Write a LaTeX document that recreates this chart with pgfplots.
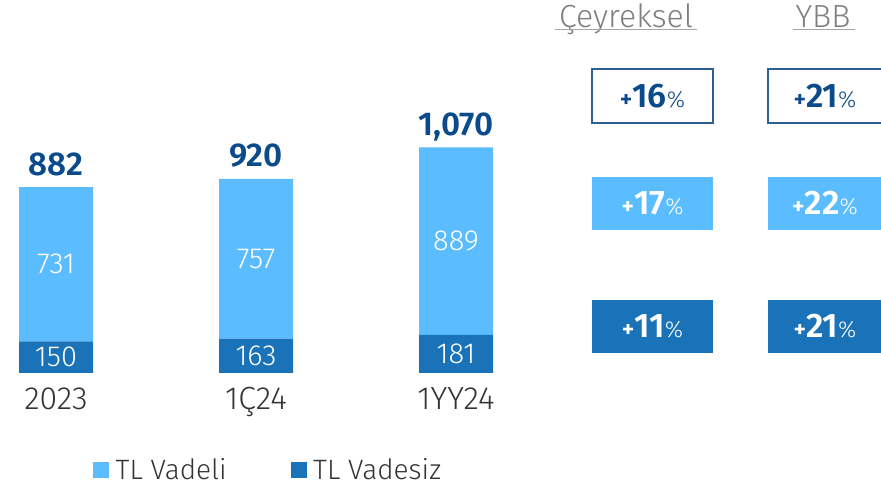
\documentclass[border=0pt]{standalone}
\usepackage{pgfplots}
\pgfplotsset{compat=1.18}
\usepackage{fontspec}
\setmainfont{Fira Sans Light}[BoldFont={Fira Sans SemiBold}]
\definecolor{lb}{HTML}{5BBCFF}
\definecolor{db}{HTML}{1A72B9}
\definecolor{nv}{HTML}{0B4A8B}
\definecolor{ol}{HTML}{2E5E94}
\definecolor{gr}{HTML}{7F7F7F}
\definecolor{tx}{HTML}{333333}
\newcommand\pct[1]{{\fontsize{24}{24}\selectfont\bfseries +}{\fontsize{34}{34}\selectfont\bfseries #1}{\fontsize{23}{23}\selectfont\%}}
\pgfplotsset{base/.style={scale only axis, width=881pt, height=373pt,
  xmin=-0.28, xmax=4.125, ymin=0, ymax=1768,
  axis line style={draw=none}, tick style={draw=none}, ytick=\empty, clip=false}}
\begin{document}
\begin{tikzpicture}
\useasboundingbox (0pt,-113pt) rectangle (881pt,373pt);
\begin{axis}[base, ybar stacked, bar width=74pt,
  xtick={0,1,2}, xticklabels={2023,1Ç24,1YY24},
  xticklabel style={font=\fontsize{32}{32}\selectfont, text=tx, yshift=-11pt},
  legend style={at={(axis description cs:0.1056,-0.2587)}, anchor=west, draw=none, fill=none,
    inner sep=0pt, legend columns=2, font=\fontsize{28}{28}\selectfont, text=tx,
    /tikz/every even column/.append style={column sep=62pt}},
  legend cell align=left]
\addplot[fill=db, draw=none, forget plot] coordinates {(0,150) (1,163) (2,181)};
\addplot[fill=lb, draw=none, forget plot] coordinates {(0,731) (1,757) (2,889)};
\addlegendimage{legend image code/.code={\fill[lb] (0pt,-7.5pt) rectangle (15pt,7.5pt);}}
\addlegendentry{\hspace{5pt}TL Vadeli}
\addlegendimage{legend image code/.code={\fill[db] (0pt,-7.5pt) rectangle (15pt,7.5pt);}}
\addlegendentry{\hspace{5pt}TL Vadesiz}
\end{axis}
\begin{axis}[base, xtick=\empty]
\addplot[draw=none, mark=none, nodes near coords, point meta=explicit symbolic,
  every node near coord/.style={anchor=center, text=white, font=\fontsize{29}{29}\selectfont}]
  coordinates {(0,75)[150] (1,81.5)[163] (2,90.5)[181] (0,515.5)[731] (1,541.5)[757] (2,625.5)[889]};
\addplot[draw=none, mark=none, nodes near coords, point meta=explicit symbolic,
  every node near coord/.style={anchor=base, yshift=12pt, text=nv, font=\fontsize{33}{33}\selectfont\bfseries}]
  coordinates {(0,881)[882] (1,920)[920] (2,1070)[{1,070}]};
\end{axis}
% headers
\node[anchor=base, text=gr, font=\fontsize{32}{32}\selectfont, inner sep=0pt] at (626pt,345pt) {Çeyreksel};
\draw[gr!70, line width=1pt] (555pt,343pt) -- (697pt,343pt);
\node[anchor=base, text=gr, font=\fontsize{32}{32}\selectfont, inner sep=0pt] at (823pt,345pt) {YBB};
\draw[gr!70, line width=1pt] (793pt,343pt) -- (855pt,343pt);
% boxes
\draw[ol, line width=1.3pt] (592pt,250pt) rectangle (713pt,304pt);
\draw[ol, line width=1.3pt] (768pt,250pt) rectangle (883pt,304pt);
\fill[lb] (592pt,143pt) rectangle (713pt,196pt);
\fill[lb] (768pt,143pt) rectangle (883pt,196pt);
\fill[db] (592pt,20pt) rectangle (713pt,73pt);
\fill[db] (768pt,20pt) rectangle (883pt,73pt);
\node[text=nv, inner sep=0pt] at (652.5pt,277pt) {\pct{16}};
\node[text=nv, inner sep=0pt] at (825pt,277pt) {\pct{21}};
\node[text=white, inner sep=0pt] at (652.5pt,169.5pt) {\pct{17}};
\node[text=white, inner sep=0pt] at (825pt,169.5pt) {\pct{22}};
\node[text=white, inner sep=0pt] at (652.5pt,46.5pt) {\pct{11}};
\node[text=white, inner sep=0pt] at (825pt,46.5pt) {\pct{21}};
\end{tikzpicture}
\end{document}
